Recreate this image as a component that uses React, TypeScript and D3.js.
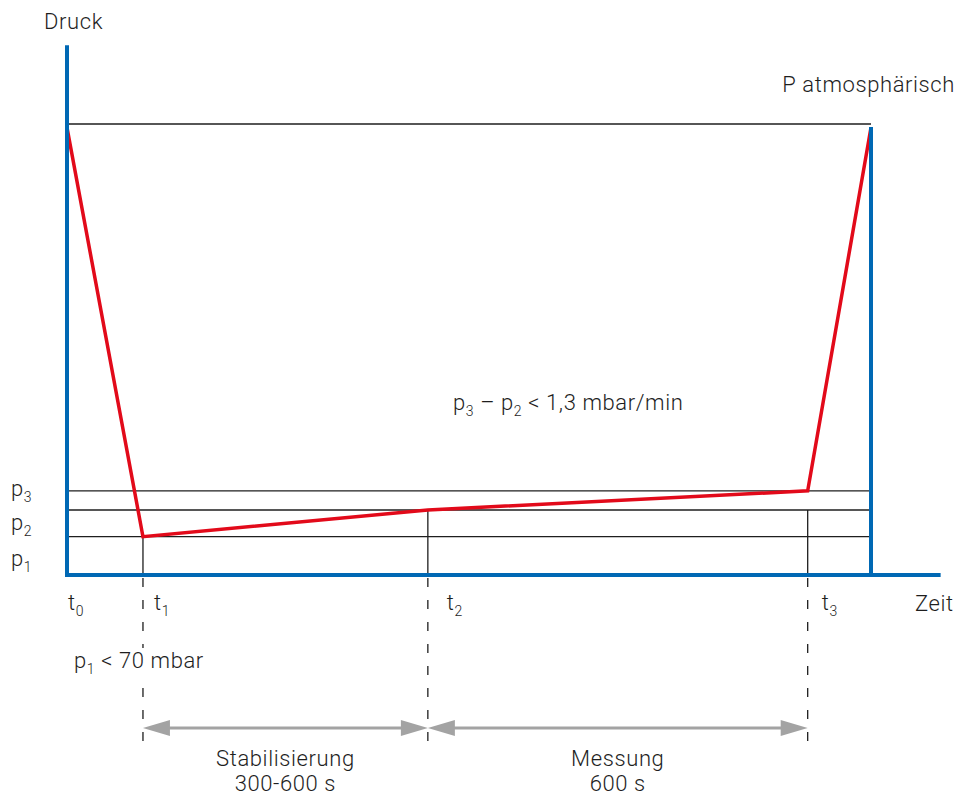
import * as d3 from "d3";

// time points (s) of the schematic test cycle: t0, t1, t2, t3, vent end
const timeKeys = ["t0", "t1", "t2", "t3", "end"];
const timeValues = [0, 120, 570, 1170, 1270];
const timeMax = 1380;

// pressure values (mbar, schematic)
const pressureCurve = [1005, 86, 146, 189, 1005];
const levelNames = ["p1", "p2", "p3"];
const levelValues = [86, 146, 189];
const pAtm = 1013;
const pMax = 1190;

const tickLabels = [
  { key: "t0", sub: "0", at: 0 },
  { key: "t1", sub: "1", at: 120 },
  { key: "t2", sub: "2", at: 570 },
  { key: "t3", sub: "3", at: 1170 },
];

const spans = [
  { from: 120, to: 570, title: "Stabilisierung", sub: "300-600 s" },
  { from: 570, to: 1170, title: "Messung", sub: "600 s" },
];

const W = 960;
const H = 798;
const BLUE = "#0068b4";
const RED = "#e20a1a";
const GREY = "#a3a3a3";
const INK = "#1e1e1e";
const FONT = "Roboto, 'DejaVu Sans', sans-serif";
const FS = 22;

export default function App() {
  const x = d3.scaleLinear().domain([0, timeValues[4]]).range([67, 871]);
  const y = d3.scaleLinear().domain([0, pAtm]).range([575, 124]);

  const endT = timeValues[timeKeys.indexOf("end")];
  const redLine = d3
    .line<number>()
    .x((_, i) => x(timeValues[i]))
    .y((d) => y(d));

  const arrowY = 728;
  const dashTop = 578;
  const dashBottom = 743;

  const head = (tipX: number, dir: number) =>
    `M${tipX},${arrowY} L${tipX + dir * 27},${arrowY - 8} L${tipX + dir * 27},${arrowY + 8} Z`;

  const sub = (base: string, s: string) => (
    <>
      {base}
      <tspan fontSize={14} dy={6}>
        {s}
      </tspan>
    </>
  );

  const tickOffset = [1, 11, 19, 14];

  return (
    <div style={{ position: "absolute", left: 0, top: 0 }}>
      <svg width={W} height={H} style={{ display: "block", background: "#fff" }}>
        <g fontFamily={FONT} fontWeight={300} fill={INK} fontSize={FS} letterSpacing={0.6}>
          {/* atmospheric line */}
          <line x1={x(0)} x2={x(endT)} y1={y(pAtm)} y2={y(pAtm)} stroke={INK} strokeWidth={1.3} />
          {/* pressure levels */}
          {levelValues.map((v, i) => (
            <line key={levelNames[i]} x1={x(0)} x2={x(endT)} y1={y(v)} y2={y(v)} stroke={INK} strokeWidth={1.3} />
          ))}
          {/* solid verticals from curve down to axis */}
          {[
            { t: timeValues[1], p: levelValues[0] },
            { t: timeValues[2], p: levelValues[1] },
            { t: timeValues[3], p: levelValues[1] },
          ].map((d, i) => (
            <line key={"v" + i} x1={x(d.t)} x2={x(d.t)} y1={y(d.p)} y2={y(0)} stroke={INK} strokeWidth={1.3} />
          ))}
          {/* dashed guides below axis */}
          {timeValues.slice(1, 4).map((t, i) => (
            <line
              key={"d" + i}
              x1={x(t)}
              x2={x(t)}
              y1={dashTop}
              y2={dashBottom}
              stroke={INK}
              strokeWidth={1.3}
              strokeDasharray="9 13"
            />
          ))}
          {/* red curve */}
          <path d={redLine(pressureCurve) ?? ""} fill="none" stroke={RED} strokeWidth={3.5} strokeLinejoin="miter" />
          {/* blue frame */}
          <line x1={x(0)} x2={x(0)} y1={y(pMax)} y2={y(0) + 2} stroke={BLUE} strokeWidth={4} />
          <line x1={x(endT)} x2={x(endT)} y1={y(pAtm) + 3} y2={y(0)} stroke={BLUE} strokeWidth={4} />
          <line x1={x(0) - 2} x2={x(timeMax)} y1={y(0)} y2={y(0)} stroke={BLUE} strokeWidth={4} />

          {/* labels */}
          <text x={44} y={29}>Druck</text>
          <text x={955} y={92} textAnchor="end">P atmosphärisch</text>
          <text x={915} y={611}>Zeit</text>
          {levelValues.map((v, i) => (
            <text key={"pl" + i} x={11} y={y(v) + [29, 20, 5][i]}>
              {sub("p", String(i + 1))}
            </text>
          ))}
          {tickLabels.map((t, i) => (
            <text key={t.key} x={x(t.at) + tickOffset[i]} y={610}>
              {sub("t", t.sub)}
            </text>
          ))}
          <rect x={120} y={648} width={40} height={27} fill="#fff" />
          <text x={74} y={668}>
            {sub("p", "1")}
            <tspan dy={-6}> &lt; 70 mbar</tspan>
          </text>
          <text x={453} y={410}>
            {sub("p", "3")}
            <tspan dy={-6}> – </tspan>
            {sub("p", "2")}
            <tspan dy={-6}> &lt; 1,3 mbar/min</tspan>
          </text>

          {/* duration arrows */}
          {spans.map((s) => {
            const a = x(s.from);
            const b = x(s.to);
            const c = (a + b) / 2;
            return (
              <g key={s.title}>
                <line x1={a + 20} x2={b - 20} y1={arrowY} y2={arrowY} stroke={GREY} strokeWidth={3} />
                <path d={head(a, 1)} fill={GREY} />
                <path d={head(b, -1)} fill={GREY} />
                <text x={c} y={766} textAnchor="middle">{s.title}</text>
                <text x={c} y={791} textAnchor="middle">{s.sub}</text>
              </g>
            );
          })}
        </g>
      </svg>
    </div>
  );
}
